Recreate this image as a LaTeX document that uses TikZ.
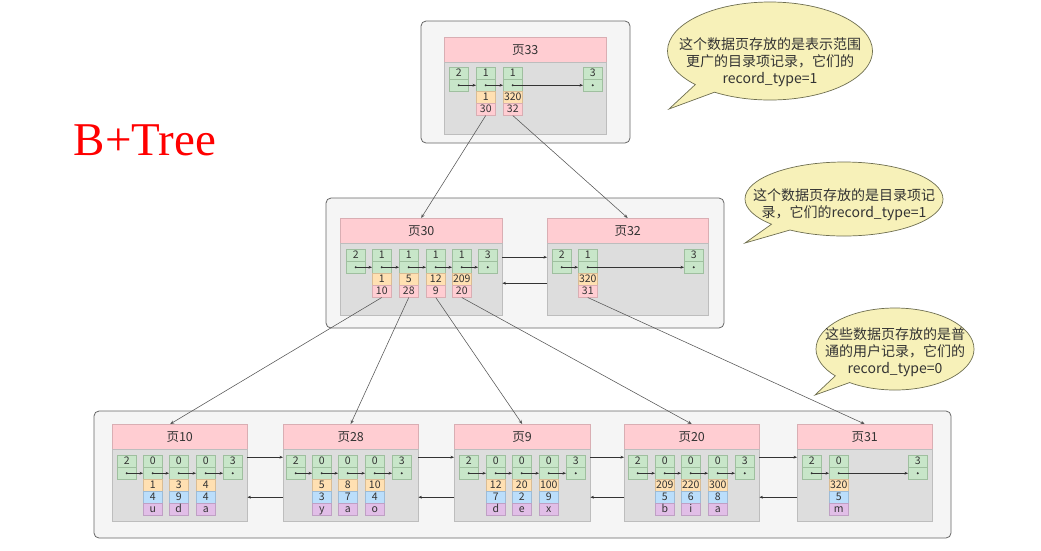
\documentclass[tikz,border=0pt]{standalone}
\usepackage{fontspec}
\setmainfont{Noto Sans CJK SC}
\newfontfamily\btfont{Liberation Serif}
\usetikzlibrary{shapes.callouts,arrows.meta}
\definecolor{grpline}{HTML}{666666}
\definecolor{grpfill}{HTML}{F5F5F5}
\definecolor{hdrfill}{HTML}{FFCDD2}
\definecolor{hdrline}{HTML}{D9AEB3}
\definecolor{bodyfill}{HTML}{DDDDDD}
\definecolor{bodyline}{HTML}{BDBDBD}
\definecolor{gfill}{HTML}{C8E6C9}
\definecolor{gline}{HTML}{9FBF9F}
\definecolor{ofill}{HTML}{FFE0B2}
\definecolor{oline}{HTML}{D9BC94}
\definecolor{pfill}{HTML}{FFCDD2}
\definecolor{pline}{HTML}{D9AEB3}
\definecolor{bfill}{HTML}{BBDEFB}
\definecolor{bline}{HTML}{9DBBD6}
\definecolor{ufill}{HTML}{E1BEE7}
\definecolor{uline}{HTML}{BFA0C4}
\definecolor{txt}{HTML}{333333}
\definecolor{arrc}{HTML}{333333}
\definecolor{treec}{HTML}{555555}
\definecolor{cfill}{HTML}{F7F1B9}
\definecolor{cline}{HTML}{6E6E50}
\tikzset{
  grp/.style={draw=grpline, fill=grpfill, rounded corners=5pt, line width=0.8pt},
  hdr/.style={draw=hdrline, fill=hdrfill, anchor=north west, inner sep=0pt, minimum height=25pt, text=txt, font=\fontsize{12.5}{13}\selectfont},
  body/.style={draw=bodyline, fill=bodyfill, anchor=north west, inner sep=0pt, minimum height=72pt},
  cell/.style={anchor=north west, inner sep=0pt, minimum width=19pt, minimum height=12pt, text height=7.6pt, text depth=1.6pt, text=txt, font=\fontsize{10.5}{10.5}\selectfont, line width=0.5pt},
  gc/.style={cell, fill=gfill, draw=gline},
  oc/.style={cell, fill=ofill, draw=oline},
  pc/.style={cell, fill=pfill, draw=pline},
  bc/.style={cell, fill=bfill, draw=bline},
  uc/.style={cell, fill=ufill, draw=uline},
  arr/.style={draw=arrc, line width=0.5pt, -{Stealth[length=3.5pt,width=2.8pt]}},
  tree/.style={draw=treec, line width=0.55pt, -{Stealth[length=4pt,width=3.2pt]}},
  callbox/.style={ellipse callout, draw=cline, fill=cfill, line width=0.7pt, inner sep=0pt, callout pointer arc=14},
  ctext/.style={align=center, inner sep=0pt, text=txt, font=\fontsize{14}{17}\selectfont},
}
\newcommand\pg[5]{%
  \node[hdr, minimum width=#4pt] (hd#1) at (#2,#3) {#5};
  \node[body, minimum width=#4pt] (bd#1) at (#2,#3+25) {};
}
\newcommand\rec[4]{%
  \node[gc] (r#1t) at (#2,#3) {#4};
  \node[gc] (r#1b) at (#2,#3+12) {};
}
\newcommand\cells[4]{%
  \foreach \s/\t [count=\i from 0] in {#4} {
    \node[\s] (r#1c\i) at (#2,#3+24+12*\i) {\t};
  }
}
\newcommand\chain[1]{%
  \foreach \a/\b in {#1} {
    \draw[arr] (r\a b.center) -- (r\b b.west);
  }
}
\newcommand\recdots[1]{%
  \foreach \a in {#1} {
    \fill[arrc] (r\a b.center) circle (1.05pt);
  }
}
\begin{document}
\begin{tikzpicture}[x=1pt,y=-1pt]
\useasboundingbox (0,0) rectangle (1041,550);
\fill[white] (0,0) rectangle (1041,550);

% B+Tree title
\node[anchor=base west, inner sep=0pt, text=red, font=\btfont\fontsize{47}{47}\selectfont] (title) at (73.5,155) {B+Tree};

% group boxes
\draw[grp] (421,21) rectangle (630,143);
\draw[grp] (326,198) rectangle (724,328);
\draw[grp] (94,411) rectangle (951,538);

% page 33
\pg{33}{444}{37}{162}{页33}
\rec{q1}{449}{67}{2}
\rec{q2}{476}{67}{1}
\rec{q3}{503}{67}{1}
\rec{q4}{583}{67}{3}
\cells{q2}{476}{67}{oc/1,pc/30}
\cells{q3}{503}{67}{oc/320,pc/32}
\chain{q1/q2,q2/q3,q3/q4}
\recdots{q1,q2,q3,q4}

% page 30
\pg{30}{340}{218}{162}{页30}
\rec{m1}{346}{249}{2}
\rec{m2}{372}{249}{1}
\rec{m3}{399}{249}{1}
\rec{m4}{426}{249}{1}
\rec{m5}{452}{249}{1}
\rec{m6}{478}{249}{3}
\cells{m2}{372}{249}{oc/1,pc/10}
\cells{m3}{399}{249}{oc/5,pc/28}
\cells{m4}{426}{249}{oc/12,pc/9}
\cells{m5}{452}{249}{oc/209,pc/20}
\chain{m1/m2,m2/m3,m3/m4,m4/m5,m5/m6}
\recdots{m1,m2,m3,m4,m5,m6}

% page 32
\pg{32}{547}{218}{161}{页32}
\rec{n1}{552}{249}{2}
\rec{n2}{578}{249}{1}
\rec{n3}{684}{249}{3}
\cells{n2}{578}{249}{oc/320,pc/31}
\chain{n1/n2,n2/n3}
\recdots{n1,n2,n3}

\draw[arr] ([yshift=22pt]bd30.east) -- ([yshift=22pt]bd32.west);
\draw[arr] ([yshift=-4pt]bd32.west) -- ([yshift=-4pt]bd30.east);

% bottom pages
\pg{10}{112}{424}{135}{页10}
\pg{28}{283}{424}{135}{页28}
\pg{9}{454}{424}{136}{页9}
\pg{20}{624}{424}{135}{页20}
\pg{31}{797}{424}{135}{页31}

\rec{a1}{117}{455}{2}
\rec{a2}{143}{455}{0}
\rec{a3}{169}{455}{0}
\rec{a4}{196}{455}{0}
\rec{a5}{223}{455}{3}
\cells{a2}{143}{455}{oc/1,bc/4,uc/u}
\cells{a3}{169}{455}{oc/3,bc/9,uc/d}
\cells{a4}{196}{455}{oc/4,bc/4,uc/a}
\chain{a1/a2,a2/a3,a3/a4,a4/a5}
\recdots{a1,a2,a3,a4,a5}

\rec{b1}{286}{455}{2}
\rec{b2}{312}{455}{0}
\rec{b3}{338}{455}{0}
\rec{b4}{365}{455}{0}
\rec{b5}{392}{455}{3}
\cells{b2}{312}{455}{oc/5,bc/3,uc/y}
\cells{b3}{338}{455}{oc/8,bc/7,uc/a}
\cells{b4}{365}{455}{oc/10,bc/4,uc/o}
\chain{b1/b2,b2/b3,b3/b4,b4/b5}
\recdots{b1,b2,b3,b4,b5}

\rec{c1}{459}{455}{2}
\rec{c2}{486}{455}{0}
\rec{c3}{512}{455}{0}
\rec{c4}{539}{455}{0}
\rec{c5}{566}{455}{3}
\cells{c2}{486}{455}{oc/12,bc/7,uc/d}
\cells{c3}{512}{455}{oc/20,bc/2,uc/e}
\cells{c4}{539}{455}{oc/100,bc/9,uc/x}
\chain{c1/c2,c2/c3,c3/c4,c4/c5}
\recdots{c1,c2,c3,c4,c5}

\rec{d1}{628}{455}{2}
\rec{d2}{655}{455}{0}
\rec{d3}{681}{455}{0}
\rec{d4}{708}{455}{0}
\rec{d5}{735}{455}{3}
\cells{d2}{655}{455}{oc/209,bc/5,uc/b}
\cells{d3}{681}{455}{oc/220,bc/6,uc/i}
\cells{d4}{708}{455}{oc/300,bc/8,uc/a}
\chain{d1/d2,d2/d3,d3/d4,d4/d5}
\recdots{d1,d2,d3,d4,d5}

\rec{e1}{802}{455}{2}
\rec{e2}{829}{455}{0}
\rec{e3}{908}{455}{3}
\cells{e2}{829}{455}{oc/320,bc/5,uc/m}
\chain{e1/e2,e2/e3}
\recdots{e1,e2,e3}

% sibling links
\foreach \p/\q in {10/28,28/9,9/20,20/31} {
  \draw[arr] ([yshift=28pt]bd\p.east) -- ([yshift=28pt]bd\q.west);
  \draw[arr] ([yshift=-12pt]bd\q.west) -- ([yshift=-12pt]bd\p.east);
}

% tree links
\draw[tree] (rq2c1.south) -- (hd30.north);
\draw[tree] (rq3c1.south) -- (hd32.north);
\draw[tree] (rm2c1.south) -- ([xshift=-9.5pt]hd10.north);
\draw[tree] (rm3c1.south) -- (hd28.north);
\draw[tree] (rm4c1.south) -- (hd9.north);
\draw[tree] (rm5c1.south) -- (hd20.north);
\draw[tree] (rn2c1.south) -- (hd31.north);

% callouts
\node[callbox, minimum width=205pt, minimum height=98pt, callout absolute pointer={(669,109)}] (co1) at (770,51) {};
\node[ctext] (co1t) at (770,62) {这个数据页存放的是表示范围\\更广的目录项记录，它们的\\record\_type=1};
\node[callbox, minimum width=198pt, minimum height=74pt, callout absolute pointer={(745,243)}] (co2) at (844,199) {};
\node[ctext] (co2t) at (844,205) {这个数据页存放的是目录项记\\录，它们的record\_type=1};
\node[callbox, minimum width=158pt, minimum height=82pt, callout absolute pointer={(815,395)}] (co3) at (895,349) {};
\node[ctext] (co3t) at (895,352) {这些数据页存放的是普\\通的用户记录，它们的\\record\_type=0};
\end{tikzpicture}
\end{document}
